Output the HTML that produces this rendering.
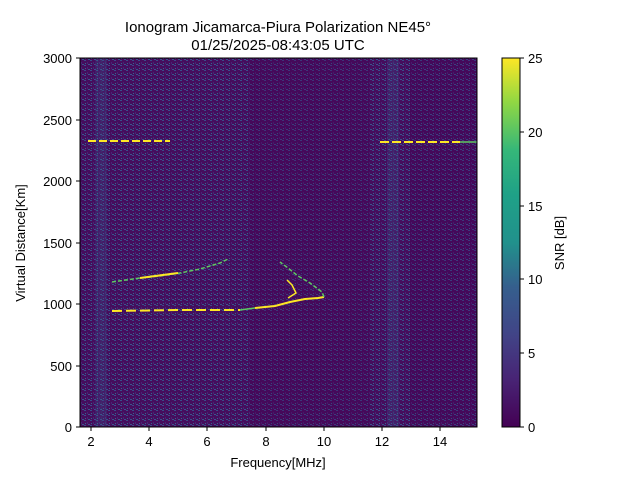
<!DOCTYPE html>
<html><head><style>
body{margin:0;background:#fff;}
svg text{font-family:"Liberation Sans","DejaVu Sans",sans-serif;fill:#000;}
</style></head><body>
<svg width="640" height="480" xmlns="http://www.w3.org/2000/svg">
<defs>
<pattern id="n" width="6" height="5" patternUnits="userSpaceOnUse">
<rect width="6" height="5" fill="#450d5d"/>
<rect x="0" y="0" width="2" height="1" fill="#3b4b8a"/>
<rect x="3" y="2" width="1" height="2" fill="#482475"/>
<rect x="4" y="4" width="2" height="1" fill="#39568c"/>
<rect x="1" y="3" width="1" height="1" fill="#31688e"/>
</pattern>
<pattern id="n2" width="4" height="3" patternUnits="userSpaceOnUse">
<rect width="4" height="3" fill="#3e4a89"/>
<rect x="1" y="0" width="1" height="2" fill="#2a788e"/>
<rect x="3" y="1" width="1" height="1" fill="#482878"/>
</pattern>
<linearGradient id="vir" x1="0" y1="1" x2="0" y2="0">
<stop offset="0" stop-color="#440154"/><stop offset="0.13" stop-color="#482475"/>
<stop offset="0.25" stop-color="#414487"/><stop offset="0.38" stop-color="#355f8d"/>
<stop offset="0.5" stop-color="#21918c"/><stop offset="0.63" stop-color="#1fa187"/>
<stop offset="0.75" stop-color="#35b779"/><stop offset="0.88" stop-color="#90d743"/>
<stop offset="1" stop-color="#fde725"/>
</linearGradient>
</defs>
<text x="278" y="32" font-size="15" text-anchor="middle">Ionogram Jicamarca-Piura Polarization NE45°</text>
<text x="278" y="50" font-size="15" text-anchor="middle">01/25/2025-08:43:05 UTC</text>
<rect x="80" y="58" width="397" height="369" fill="url(#n)"/>
<rect x="95" y="58" width="12" height="369" fill="url(#n2)" opacity="0.3"/>
<rect x="387" y="58" width="12" height="369" fill="url(#n2)" opacity="0.3"/>
<rect x="250" y="58" width="120" height="369" fill="#440154" opacity="0.3"/>
<rect x="410" y="58" width="67" height="369" fill="#440154" opacity="0.25"/>
<g fill="none" stroke-linecap="butt">
<line x1="88" y1="141" x2="170" y2="141" stroke="#fde725" stroke-width="2" stroke-dasharray="8 3"/>
<line x1="380" y1="142" x2="460" y2="142" stroke="#fde725" stroke-width="2" stroke-dasharray="9 3"/>
<line x1="460" y1="142" x2="477" y2="142" stroke="#5ec962" stroke-width="1.5"/>
<polyline points="112,311 180,310 240,310" stroke="#fde725" stroke-width="2" stroke-dasharray="10 4"/>
<polyline points="240,310 255,308" stroke="#5ec962" stroke-width="1.5"/>
<polyline points="255,308 275,306 290,302 305,299 318,298 324,297" stroke="#fde725" stroke-width="2"/>
<polyline points="324,297 322,292 310,283 298,276 288,268 280,262" stroke="#5ec962" stroke-width="1.5" stroke-dasharray="4 2"/>
<polyline points="288,298 296,293 292,285 287,280" stroke="#fde725" stroke-width="1.5"/>
<polyline points="112,282 140,278 160,276 180,273 200,269 220,263 228,259" stroke="#5ec962" stroke-width="1.5" stroke-dasharray="4 2"/>
<polyline points="140,278 178,273" stroke="#fde725" stroke-width="2"/>
</g>
<rect x="80" y="58" width="397" height="369" fill="none" stroke="#000" stroke-width="1"/>
<g stroke="#000">
<line x1="91" y1="427" x2="91" y2="431"/><line x1="149" y1="427" x2="149" y2="431"/>
<line x1="207" y1="427" x2="207" y2="431"/><line x1="266" y1="427" x2="266" y2="431"/>
<line x1="324" y1="427" x2="324" y2="431"/><line x1="382" y1="427" x2="382" y2="431"/>
<line x1="440" y1="427" x2="440" y2="431"/>
<line x1="76" y1="427" x2="80" y2="427"/><line x1="76" y1="366" x2="80" y2="366"/>
<line x1="76" y1="304" x2="80" y2="304"/><line x1="76" y1="243" x2="80" y2="243"/>
<line x1="76" y1="181" x2="80" y2="181"/><line x1="76" y1="120" x2="80" y2="120"/>
<line x1="76" y1="58" x2="80" y2="58"/>
</g>
<g font-size="13" text-anchor="middle">
<text x="91" y="446">2</text><text x="149" y="446">4</text><text x="207" y="446">6</text>
<text x="266" y="446">8</text><text x="324" y="446">10</text><text x="382" y="446">12</text>
<text x="440" y="446">14</text>
<text x="278" y="467">Frequency[MHz]</text>
</g>
<g font-size="13" text-anchor="end">
<text x="72" y="432">0</text><text x="72" y="371">500</text><text x="72" y="309">1000</text>
<text x="72" y="248">1500</text><text x="72" y="186">2000</text><text x="72" y="125">2500</text>
<text x="72" y="63">3000</text>
</g>
<text transform="translate(25,243) rotate(-90)" font-size="13" text-anchor="middle">Virtual Distance[Km]</text>
<rect x="502" y="58" width="18" height="369" fill="url(#vir)" stroke="#000" stroke-width="1"/>
<g stroke="#000">
<line x1="520" y1="427" x2="524" y2="427"/><line x1="520" y1="353" x2="524" y2="353"/>
<line x1="520" y1="279" x2="524" y2="279"/><line x1="520" y1="206" x2="524" y2="206"/>
<line x1="520" y1="132" x2="524" y2="132"/><line x1="520" y1="58" x2="524" y2="58"/>
</g>
<g font-size="13">
<text x="528" y="432">0</text><text x="528" y="358">5</text><text x="528" y="284">10</text>
<text x="528" y="211">15</text><text x="528" y="137">20</text><text x="528" y="63">25</text>
</g>
<text transform="translate(564,243) rotate(-90)" font-size="13" text-anchor="middle">SNR [dB]</text>
</svg>
</body></html>
